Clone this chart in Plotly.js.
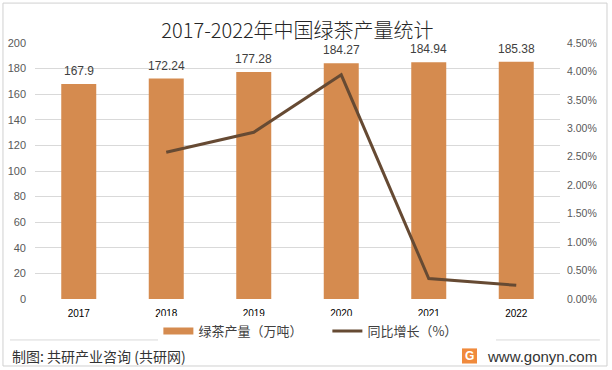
<!DOCTYPE html>
<html>
<head>
<meta charset="utf-8">
<script src="https://cdn.plot.ly/plotly-3.0.1.min.js"></script>
<style>html,body{margin:0;padding:0;background:#fff;}#chart{width:612px;height:370px;}</style>
</head>
<body>
<div id="chart"></div>
<script>
const years = ['2017','2018','2019','2020','2021','2022'];
const output = [167.9, 172.24, 177.28, 184.27, 184.94, 185.38];
const growthYears = ['2018','2019','2020','2021','2022'];
const growth = [0.0258, 0.0293, 0.0394, 0.0036, 0.0024];
const barName = '绿茶产量（万吨）';
const lineName = '同比增长（%）';
const titleText = '2017-2022年中国绿茶产量统计';
const sourceText = '制图: 共研产业咨询 (共研网)';
const siteText = 'www.gonyn.com';

const fontCJK = '"Noto Sans CJK SC", "Noto Sans", sans-serif';
const fontNum = '"Liberation Sans", "Noto Sans", sans-serif';
const barColor = '#D58B4F';
const lineColor = '#664A33';

const traces = [
  {
    type: 'bar', x: years, y: output, name: barName, showlegend: false,
    marker: {color: barColor}, width: 0.4, hoverinfo: 'skip'
  },
  {
    type: 'scatter', mode: 'lines', x: [null], y: [null], name: barName,
    line: {color: barColor, width: 7}, hoverinfo: 'skip'
  },
  {
    type: 'scatter', mode: 'lines', x: growthYears, y: growth, name: lineName,
    yaxis: 'y2', line: {color: lineColor, width: 3}, hoverinfo: 'skip'
  }
];

const annotations = years.map((yr, i) => ({
  x: i, y: output[i], xref: 'x', yref: 'y', text: String(output[i]),
  showarrow: false, yanchor: 'bottom', yshift: 4,
  font: {family: fontNum, size: 12, color: '#404040'}
}));
annotations.push({
  xref: 'paper', yref: 'paper', x: -0.0476, y: -0.2227, xanchor: 'left', yanchor: 'middle',
  text: sourceText, showarrow: false, font: {family: fontCJK, size: 14, color: '#333333'}
});
annotations.push({
  xref: 'paper', yref: 'paper', x: 0.857, y: -0.2227, xanchor: 'left', yanchor: 'middle',
  text: siteText, showarrow: false, font: {family: fontNum, size: 15, color: '#333333'}
});
annotations.push({
  xref: 'paper', yref: 'paper', x: 0.8267, y: -0.2227, xanchor: 'center', yanchor: 'middle',
  text: '<b>G</b>', showarrow: false, font: {family: fontNum, size: 12, color: '#ffffff'}
});

const shapes = [
  {type: 'rect', xref: 'paper', yref: 'paper', x0: -0.061, x1: 1.0895, y0: -0.2617, y1: 1.156,
   line: {color: '#D0D0D0', width: 1}, fillcolor: 'rgba(0,0,0,0)', layer: 'below'},
  {type: 'line', xref: 'paper', yref: 'paper', x0: -0.0476, x1: 1.076, y0: -0.160, y1: -0.160,
   line: {color: '#D9D9D9', width: 1}},
  {type: 'rect', xref: 'paper', yref: 'paper', x0: 0.8133, x1: 0.8419, y0: -0.252, y1: -0.193,
   line: {width: 0}, fillcolor: '#F08A3C'}
];

const layout = {
  width: 612, height: 370,
  margin: {l: 35, r: 52, t: 43, b: 71},
  paper_bgcolor: '#ffffff', plot_bgcolor: '#ffffff',
  title: {text: titleText, x: 0.5, xref: 'paper', xanchor: 'center', y: 0.917, yref: 'container', yanchor: 'middle',
          font: {family: fontCJK, size: 20, color: '#262626', weight: 300}},
  showlegend: true,
  legend: {orientation: 'h', x: 0.235, y: -0.125, xanchor: 'left', yanchor: 'middle',
           font: {family: fontCJK, size: 13, color: '#404040'}, traceorder: 'normal', itemwidth: 30,
           entrywidth: 124},
  xaxis: {type: 'category', range: [-0.5, 5.5], showgrid: false, zeroline: false, showline: false, ticks: '',
          ticklabelstandoff: 7, tickfont: {family: fontNum, size: 10, color: '#000000'}},
  yaxis: {range: [0, 200], dtick: 20, showgrid: true, gridcolor: '#D9D9D9', gridwidth: 1,
          zeroline: false, showline: false, ticks: '', ticklabelstandoff: 8,
          tickfont: {family: fontNum, size: 11, color: '#595959'}},
  yaxis2: {overlaying: 'y', side: 'right', range: [0, 0.045], dtick: 0.005, tickformat: '.2%',
           showgrid: false, zeroline: false, showline: false, ticks: '', ticklabelstandoff: 6,
           tickfont: {family: fontNum, size: 10.5, color: '#595959'}},
  annotations: annotations,
  shapes: shapes
};

Plotly.newPlot('chart', traces, layout, {displayModeBar: false, staticPlot: true});
</script>
</body>
</html>
